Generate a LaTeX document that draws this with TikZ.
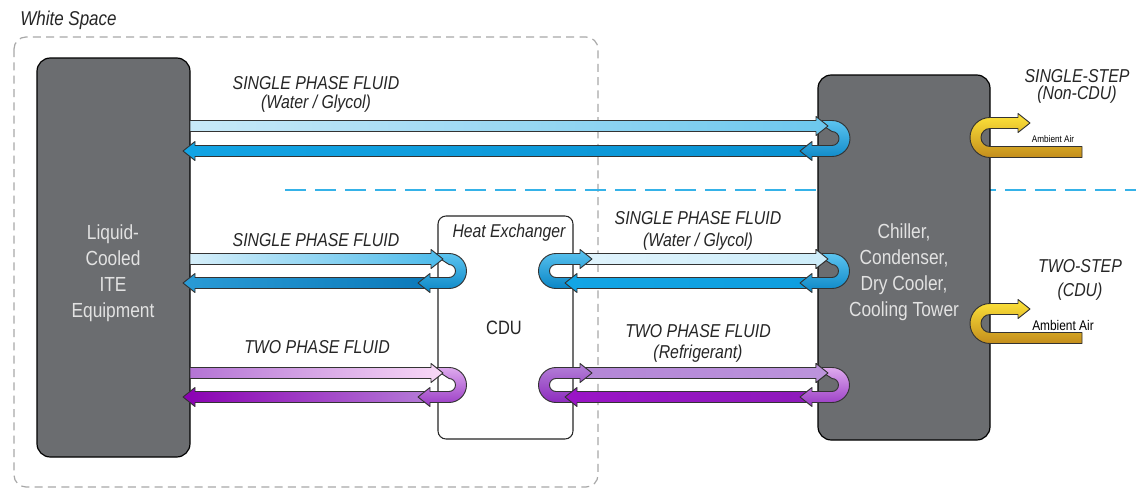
\documentclass[tikz,border=0pt]{standalone}
\usepackage{fontspec}
\setmainfont{Liberation Sans}[FakeStretch=0.85]

% box and text colours
\definecolor{boxgray}{HTML}{6B6D70}
\definecolor{boxtxt}{HTML}{E2E2E2}
\definecolor{wsgray}{HTML}{A8A8A8}
\definecolor{divblue}{HTML}{35B2E8}
% blue loops
\definecolor{bUtop}{HTML}{5CC4F0}
\definecolor{bUbot}{HTML}{0A86C6}
\definecolor{aHiL}{HTML}{C8E9F8}
\definecolor{aHiR}{HTML}{6CC7EE}
\definecolor{aLoL}{HTML}{13A4E4}
\definecolor{aLoR}{HTML}{0A92D2}
\definecolor{bHiL}{HTML}{D6EFFA}
\definecolor{bHiR}{HTML}{4CBBEB}
\definecolor{bLoL}{HTML}{2A9BD6}
\definecolor{bLoR}{HTML}{0B79B9}
\definecolor{cHiL}{HTML}{DFF3FC}
\definecolor{cHiR}{HTML}{CDEDFA}
\definecolor{cLoL}{HTML}{12A5E5}
\definecolor{cLoR}{HTML}{0F9EDF}
% purple loops
\definecolor{pUtop}{HTML}{DEAAEE}
\definecolor{pUbot}{HTML}{9838C4}
\definecolor{qUtop}{HTML}{B584D8}
\definecolor{qUbot}{HTML}{8D2BBE}
\definecolor{dHiL}{HTML}{B474D5}
\definecolor{dHiR}{HTML}{F9D9F7}
\definecolor{dLoL}{HTML}{8A00B2}
\definecolor{dLoR}{HTML}{B57CD8}
\definecolor{eHiL}{HTML}{B386D6}
\definecolor{eHiR}{HTML}{BC94DC}
\definecolor{eLoL}{HTML}{9A14C6}
\definecolor{eLoR}{HTML}{8E1ABB}
% ambient air loops
\definecolor{yTop}{HTML}{FFE53A}
\definecolor{yBot}{HTML}{C38D1C}

\tikzset{
  pipe/.style={draw=black!80, line width=0.7pt, line join=round},
  darkbox/.style={draw=black, line width=0.9pt, fill=boxgray, rounded corners=10pt, inner sep=0pt},
  cdubox/.style={draw=black!85, line width=0.8pt, fill=white, rounded corners=6pt, inner sep=0pt},
  boxtext/.style={text=boxtxt, align=center, inner sep=0pt, font=\fontsize{15.3}{19.5}\selectfont},
  lbl/.style={text=black!85, inner sep=0pt, font=\fontsize{14}{16}\selectfont\itshape},
  wsline/.style={draw=wsgray, line width=0.9pt, dash pattern=on 6pt off 4pt, rounded corners=9pt},
  divider/.style={draw=divblue, line width=2.2pt, dash pattern=on 16pt off 6.5pt},
}

% straight band ending in an arrow head pointing right:
% x start, x tip, y, left colour, right colour
\newcommand\hxpipeR[5]{%
  \path[pipe, left color=#4, right color=#5]
    (#1,#3-5.5) -- (#2-12,#3-5.5) -- (#2-12,#3-9.5) -- (#2,#3)
    -- (#2-12,#3+9.5) -- (#2-12,#3+5.5) -- (#1,#3+5.5) -- cycle;}
% straight band ending in an arrow head pointing left
\newcommand\hxpipeL[5]{%
  \path[pipe, left color=#4, right color=#5]
    (#1,#3-5.5) -- (#2+12,#3-5.5) -- (#2+12,#3-9.5) -- (#2,#3)
    -- (#2+12,#3+9.5) -- (#2+12,#3+5.5) -- (#1,#3+5.5) -- cycle;}
% U-turn bending round on the right: in along the top, out along the bottom
% x start, x centre, x tip, y top, y bottom, top colour, bottom colour
\newcommand\hxturnR[7]{%
  \pgfmathsetmacro\hxRo{0.375*(#5-#4)+4.125}%
  \pgfmathsetmacro\hxRi{0.375*(#5-#4)-4.125}%
  \path[pipe, top color=#6, bottom color=#7]
    (#1,#4-5.5) -- (#2,#4-5.5) arc[start angle=90, end angle=-90, radius=\hxRo pt]
    -- (#3+12,#5+5.5) -- (#3+12,#5+9.5) -- (#3,#5) -- (#3+12,#5-9.5) -- (#3+12,#5-5.5)
    -- (#2,#5-5.5) arc[start angle=-90, end angle=90, radius=\hxRi pt] -- cycle;}
% U-turn bending round on the left: in along the bottom, out along the top
\newcommand\hxturnL[7]{%
  \pgfmathsetmacro\hxRo{0.375*(#5-#4)+4.125}%
  \pgfmathsetmacro\hxRi{0.375*(#5-#4)-4.125}%
  \path[pipe, top color=#6, bottom color=#7]
    (#1,#5+5.5) -- (#2,#5+5.5) arc[start angle=-90, end angle=-270, radius=\hxRo pt]
    -- (#3-12,#4-5.5) -- (#3-12,#4-9.5) -- (#3,#4) -- (#3-12,#4+9.5) -- (#3-12,#4+5.5)
    -- (#2,#4+5.5) arc[start angle=90, end angle=270, radius=\hxRi pt] -- (#1,#5-5.5) -- cycle;}

\begin{document}
\begin{tikzpicture}[x=0.75pt,y=-0.75pt]
\useasboundingbox (0,0) rectangle (1136,489);
\fill[white] (0,0) rectangle (1136,489);

% white space boundary and its title
\draw[wsline] (14,37) rectangle (598,487);
\node[anchor=west, inner sep=0pt, text=black!85, font=\fontsize{15}{17}\selectfont\itshape] (ws) at (20,20) {White Space};

% divider between single-step and two-step loops
\draw[divider] (285,190) -- (1136,190);

% equipment blocks
\node[darkbox, minimum width=114.75pt, minimum height=299.25pt] (ite) at (113.5,257.5) {};
\node[boxtext] (itetext) at (113,273.5) {Liquid-\\Cooled\\ITE\\Equipment};
\node[darkbox, minimum width=129pt, minimum height=273.75pt] (plant) at (904,257.5) {};
\node[boxtext] (planttext) at (904,272.5) {Chiller,\\Condenser,\\Dry Cooler,\\Cooling Tower};
\node[cdubox, minimum width=101.25pt, minimum height=167.25pt] (cdu) at (505.5,327.5) {};
\node[inner sep=0pt, text=black!85, font=\fontsize{13.9}{16}\selectfont\itshape] (hx) at (509,233) {Heat Exchanger};
\node[inner sep=0pt, text=black!85, font=\fontsize{14.5}{16}\selectfont] (cdutext) at (504,328) {CDU};

% loop 1: ITE <-> plant, single phase
\hxpipeL{815}{183}{151}{aLoL}{aLoR}
\hxturnR{815}{832}{800}{126}{151}{bUtop}{bUbot}
\hxpipeR{190}{828}{126}{aHiL}{aHiR}

% loop 2: ITE <-> CDU, single phase
\hxpipeL{430}{183}{283}{bLoL}{bLoR}
\hxturnR{432}{449}{418}{259}{283}{bUtop}{bUbot}
\hxpipeR{190}{443}{259}{bHiL}{bHiR}

% loop 3: CDU <-> plant, single phase
\hxpipeR{585}{828}{259}{cHiL}{cHiR}
\hxturnL{578}{556}{592}{259}{283}{bUtop}{bUbot}
\hxpipeL{812}{565}{283}{cLoL}{cLoR}
\hxturnR{815}{832}{800}{259}{283}{bUtop}{bUbot}
\begin{scope}
  \clip (800,240) rectangle (845,272);
  \hxpipeR{585}{828}{259}{cHiL}{cHiR}
\end{scope}

% loop 4: ITE <-> CDU, two phase
\hxpipeL{430}{183}{397}{dLoL}{dLoR}
\hxturnR{432}{449}{418}{373}{397}{pUtop}{pUbot}
\hxpipeR{190}{443}{373}{dHiL}{dHiR}

% loop 5: CDU <-> plant, two phase
\hxpipeR{585}{828}{373}{eHiL}{eHiR}
\hxturnL{578}{556}{592}{373}{397}{qUtop}{qUbot}
\hxpipeL{812}{565}{397}{eLoL}{eLoR}
\hxturnR{815}{832}{800}{373}{397}{pUtop}{pUbot}
\begin{scope}
  \clip (800,354) rectangle (845,386);
  \hxpipeR{585}{828}{373}{eHiL}{eHiR}
\end{scope}

% heat rejection to ambient air
\hxturnL{1082}{990}{1030}{123}{152}{yTop}{yBot}
\hxturnL{1082}{990}{1030}{309}{338}{yTop}{yBot}

% loop labels
\node[lbl] (l1a) at (316,83) {SINGLE PHASE FLUID};
\node[lbl] (l1b) at (316,104) {(Water / Glycol)};
\node[lbl] (l2) at (316,240) {SINGLE PHASE FLUID};
\node[lbl] (l3) at (317,347) {TWO PHASE FLUID};
\node[lbl] (l4a) at (698,218) {SINGLE PHASE FLUID};
\node[lbl] (l4b) at (698,242) {(Water / Glycol)};
\node[lbl] (l5a) at (698,331) {TWO PHASE FLUID};
\node[lbl] (l5b) at (698,354) {(Refrigerant)};
\node[lbl] (s1a) at (1077,76) {SINGLE-STEP};
\node[lbl] (s1b) at (1077,95) {(Non-CDU)};
\node[lbl] (s2a) at (1080,266) {TWO-STEP};
\node[lbl] (s2b) at (1080,292) {(CDU)};
\node[inner sep=0pt, font=\fontsize{7.2}{8}\selectfont] (air1) at (1053,139) {Ambient Air};
\node[inner sep=0pt, font=\fontsize{10.5}{12}\selectfont] (air2) at (1063,325) {Ambient Air};
\end{tikzpicture}
\end{document}
